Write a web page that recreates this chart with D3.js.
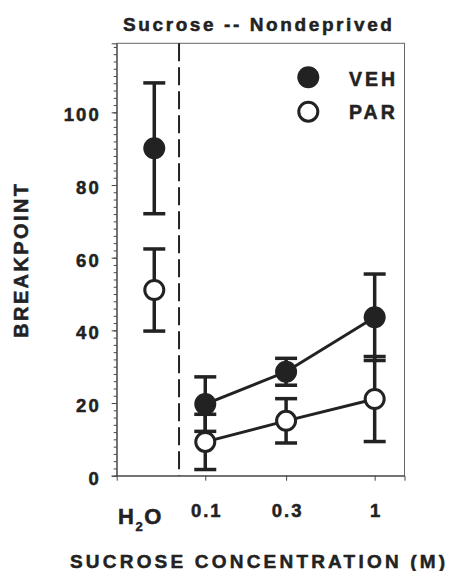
<!DOCTYPE html>
<html>
<head>
<meta charset="utf-8">
<script src="https://cdn.jsdelivr.net/npm/d3@7"></script>
<style>
  body { margin: 0; background: #fff; }
  svg text { font-family: "Liberation Sans", Arial, sans-serif; font-weight: bold; fill: #222; stroke: #222; stroke-width: 0.5px; }
</style>
</head>
<body>
<div id="viz_div"></div>
<script>
// DATA
// ---------------------------------------------------------------------------------------------------------
const doses = [0.05, 0.1, 0.3, 1];          // 0.05 = water (H2O) position on the log axis
const doseLabels = ["H2O", "0.1", "0.3", "1"];
const vehMean = [90.1, 19.7, 28.6, 43.6];
const vehSem = [18, 7.5, 3.7, 11.9];
const parMean = [51.1, 9.3, 15.1, 21.1];
const parSem = [11.3, 7.6, 6.1, 11.7];
const yMajorTicks = [0, 20, 40, 60, 80, 100];
const yMinorTicks = d3.range(0, 120, 2);
const xTicks = [0.1, 0.3, 1];
const dividerDose = 0.07;

const ink = "#222";

// SVG + SCALES
// ---------------------------------------------------------------------------------------------------------
const svg = d3.select("#viz_div").append("svg")
    .attr("width", 452)
    .attr("height", 571);

const x = d3.scaleLog([0.03, 1.5], [116.7, 404.5]);
const y = d3.scaleLinear([0, 119], [475.7, 43.3]);

// BOX
svg.append("rect")
    .attr("x", x.range()[0]).attr("y", y.range()[1])
    .attr("width", x.range()[1] - x.range()[0])
    .attr("height", y.range()[0] - y.range()[1])
    .attr("fill", "none")
    .attr("stroke", "#666")
    .attr("stroke-width", 1);

// AXES
// ---------------------------------------------------------------------------------------------------------
const yMinor = svg.append("g")
    .attr("transform", `translate(${x.range()[0]},0)`)
    .call(d3.axisLeft(y).tickValues(yMinorTicks).tickSize(3).tickFormat(""));
yMinor.select(".domain").remove();
yMinor.selectAll("line").attr("stroke", "#444");

const yAxis = svg.append("g")
    .attr("transform", `translate(${x.range()[0]},0)`)
    .call(d3.axisLeft(y).tickValues(yMajorTicks).tickSize(5).tickPadding(11));
yAxis.select(".domain").attr("stroke", "#444");
yAxis.selectAll("line").attr("stroke", "#444");
yAxis.selectAll("text")
    .attr("dy", "0.45em")
    .style("font-size", "18.5px")
    .style("letter-spacing", "2px")
    .style("font-family", "'Liberation Sans', Arial, sans-serif")
    .style("font-weight", "bold")
    .attr("fill", ink);

const xAxis = svg.append("g")
    .attr("transform", `translate(0,${y.range()[0]})`)
    .call(d3.axisBottom(x).tickValues(xTicks).tickSize(5).tickFormat(d => doseLabels[doses.indexOf(d)]));
xAxis.select(".domain").attr("stroke", "#444");
xAxis.selectAll("line").attr("stroke", "#444");
xAxis.selectAll("text")
    .attr("y", 41)
    .attr("dy", 0)
    .attr("dx", 1)
    .style("font-size", "18.5px")
    .style("letter-spacing", "2px")
    .style("font-family", "'Liberation Sans', Arial, sans-serif")
    .style("font-weight", "bold")
    .attr("fill", ink);

// H2O label with subscript
const h2o = svg.append("text")
    .attr("x", 118)
    .attr("y", 524)
    .style("font-size", "22px")
    .style("letter-spacing", "1.5px");
h2o.append("tspan").text("H");
h2o.append("tspan").attr("dy", 7).style("font-size", "13px").text("2");
h2o.append("tspan").attr("dy", -7).text("O");

// DASHED DIVIDER
svg.append("line")
    .attr("x1", x(dividerDose)).attr("x2", x(dividerDose))
    .attr("y1", y.range()[1]).attr("y2", y.range()[0])
    .attr("stroke", ink)
    .attr("stroke-width", 2)
    .attr("stroke-dasharray", "18,6");

// ERROR BARS
// ---------------------------------------------------------------------------------------------------------
function errorBars(means, sems) {
    const g = svg.append("g").attr("stroke", ink).attr("stroke-width", 3.5);
    doses.forEach((d, i) => {
        const cx = x(d), top = y(means[i] + sems[i]), bot = y(means[i] - sems[i]);
        g.append("line").attr("x1", cx).attr("x2", cx).attr("y1", top).attr("y2", bot);
        g.append("line").attr("x1", cx - 11).attr("x2", cx + 11).attr("y1", top).attr("y2", top);
        g.append("line").attr("x1", cx - 11).attr("x2", cx + 11).attr("y1", bot).attr("y2", bot);
    });
}
errorBars(vehMean, vehSem);
errorBars(parMean, parSem);

// LINES (sucrose concentrations only)
const line = d3.line().x(d => x(d[0])).y(d => y(d[1]));
[vehMean, parMean].forEach(m => {
    svg.append("path")
        .datum(doses.slice(1).map((d, i) => [d, m[i + 1]]))
        .attr("fill", "none")
        .attr("stroke", ink)
        .attr("stroke-width", 3)
        .attr("d", line);
});

// POINTS
svg.selectAll(".veh")
    .data(doses)
    .enter()
    .append("circle")
    .attr("cx", d => x(d))
    .attr("cy", (d, i) => y(vehMean[i]))
    .attr("r", 11)
    .attr("fill", ink);

svg.selectAll(".par")
    .data(doses)
    .enter()
    .append("circle")
    .attr("cx", d => x(d))
    .attr("cy", (d, i) => y(parMean[i]))
    .attr("r", 9.5)
    .attr("fill", "#fff")
    .attr("stroke", ink)
    .attr("stroke-width", 3);

// LEGEND
// ---------------------------------------------------------------------------------------------------------
svg.append("circle").attr("cx", 308.3).attr("cy", 77.3).attr("r", 11).attr("fill", ink);
svg.append("circle").attr("cx", 308.3).attr("cy", 111.7).attr("r", 9.5)
    .attr("fill", "#fff").attr("stroke", ink).attr("stroke-width", 3);
svg.append("text").attr("x", 349).attr("y", 86)
    .style("font-size", "19.5px").style("letter-spacing", "3px").text("VEH");
svg.append("text").attr("x", 349).attr("y", 119.3)
    .style("font-size", "19.5px").style("letter-spacing", "3px").text("PAR");

// TITLES
// ---------------------------------------------------------------------------------------------------------
svg.append("text")
    .attr("x", 123)
    .attr("y", 30.7)
    .style("font-size", "19px")
    .style("letter-spacing", "2.6px")
    .text("Sucrose -- Nondeprived");

svg.append("text")
    .attr("x", 70)
    .attr("y", 568)
    .style("font-size", "19px")
    .style("letter-spacing", "3.2px")
    .text("SUCROSE CONCENTRATION (M)");

svg.append("text")
    .attr("transform", "translate(28.3,259.7) rotate(-90)")
    .attr("text-anchor", "middle")
    .style("font-size", "20px")
    .style("letter-spacing", "2.4px")
    .text("BREAKPOINT");
</script>
</body>
</html>
